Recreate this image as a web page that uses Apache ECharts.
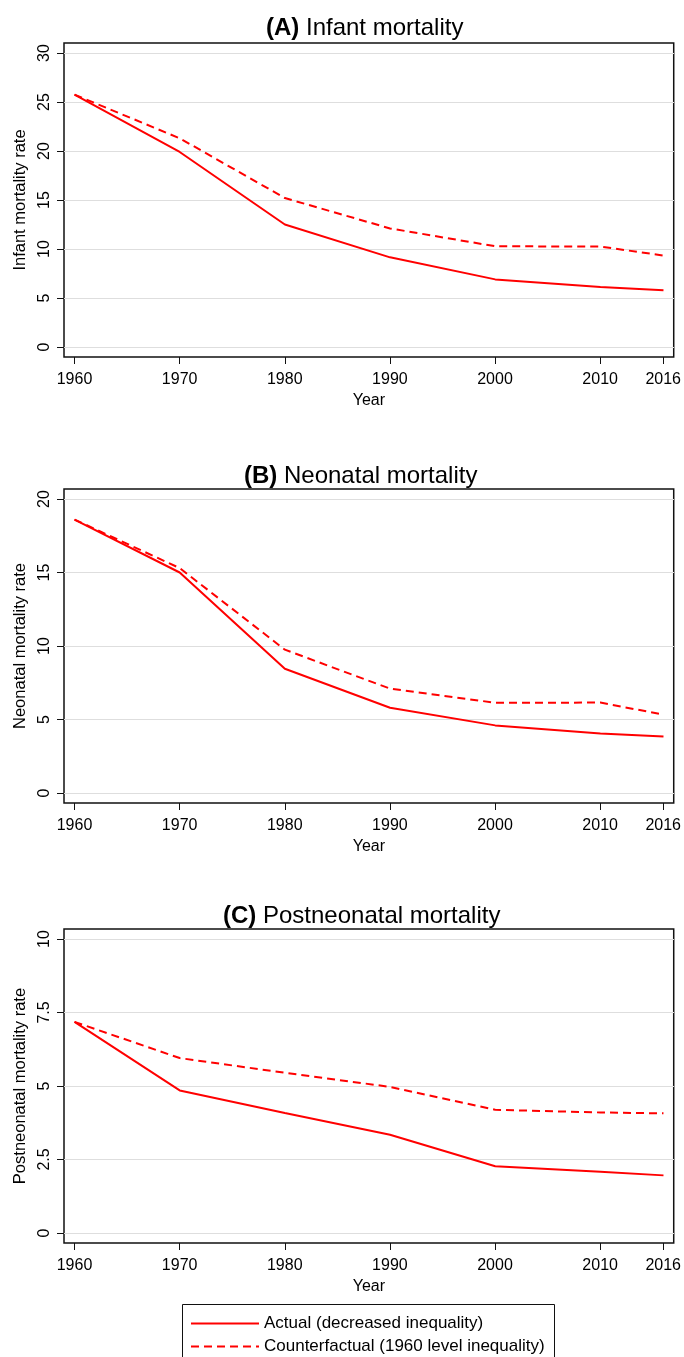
<!DOCTYPE html>
<html>
<head>
<meta charset="utf-8">
<title>Infant, neonatal and postneonatal mortality</title>
<script src="https://cdn.jsdelivr.net/npm/echarts@6/dist/echarts.min.js"></script>
<style>
  html, body { margin: 0; padding: 0; background: #fff; }
  #main { width: 684px; height: 1357px; }
</style>
</head>
<body>
<div id="main"></div>
<script>
// values
const years = [1960, 1970, 1980, 1990, 2000, 2010, 2016]
const xTicks = [1960, 1970, 1980, 1990, 2000, 2010, 2016]

const infantActual = [25.75, 19.9, 12.5, 9.15, 6.9, 6.12, 5.8]
const infantCounter = [25.75, 21.3, 15.2, 12.1, 10.28, 10.25, 9.33]
const neoActual = [18.6, 15.0, 8.45, 5.8, 4.6, 4.05, 3.85]
const neoCounter = [18.6, 15.3, 9.75, 7.1, 6.14, 6.15, 5.33]
const postActual = [7.18, 4.85, 4.08, 3.34, 2.27, 2.08, 1.96]
const postCounter = [7.18, 5.95, 5.45, 4.97, 4.19, 4.1, 4.07]

const actualName = 'Actual (decreased inequality)'
const counterName = 'Counterfactual (1960 level inequality)'

const panels = [
  { tag: '(A)', name: 'Infant mortality', yName: 'Infant mortality rate', yMax: 30, yStep: 5, actual: infantActual, counter: infantCounter },
  { tag: '(B)', name: 'Neonatal mortality', yName: 'Neonatal mortality rate', yMax: 20, yStep: 5, actual: neoActual, counter: neoCounter },
  { tag: '(C)', name: 'Postneonatal mortality', yName: 'Postneonatal mortality rate', yMax: 10, yStep: 2.5, actual: postActual, counter: postCounter }
]

// layout (px)
const frameTop = [43, 489, 929]
const titleTop = [16, 464, 904]
const titleLeft = [266, 244, 223]
const frameLeft = 64
const frameWidth = 610
const pad = 10
const plotHeight = 294

const font = 'Liberation Sans, Arial, Helvetica, sans-serif'
const red = '#ff0000'

const pairs = (vals) => years.map((y, i) => [y, vals[i]])

const grid = []
const xAxis = []
const yAxis = []
const series = []

panels.forEach((p, i) => {
  // outer frame of the plot region, carries the year axis
  grid.push({
    left: frameLeft, width: frameWidth, top: frameTop[i], height: plotHeight + 2 * pad,
    show: true, borderColor: '#111', borderWidth: 1.5
  })
  xAxis.push({
    gridIndex: 2 * i,
    type: 'value',
    position: 'bottom',
    min: 1959,
    max: 2017,
    axisLine: { show: false, onZero: false },
    axisTick: { show: true, inside: false, length: 7, customValues: xTicks, lineStyle: { color: '#111' } },
    axisLabel: { customValues: xTicks, formatter: (v) => String(v), margin: 15, fontSize: 16, color: '#000', fontFamily: font },
    splitLine: { show: false },
    name: 'Year',
    nameLocation: 'middle',
    nameGap: 36,
    nameTextStyle: { fontSize: 16, color: '#000', fontFamily: font }
  })
  yAxis.push({ gridIndex: 2 * i, type: 'value', min: 0, max: 1, show: false })

  // data region
  grid.push({ left: frameLeft, width: frameWidth, top: frameTop[i] + pad, height: plotHeight })
  xAxis.push({ gridIndex: 2 * i + 1, type: 'value', min: 1959, max: 2017, show: false })
  yAxis.push({
    gridIndex: 2 * i + 1,
    type: 'value',
    min: 0,
    max: p.yMax,
    interval: p.yStep,
    axisLine: { show: false },
    axisTick: { show: true, inside: false, length: 7, lineStyle: { color: '#111' } },
    axisLabel: { rotate: 90, margin: 11, fontSize: 16, color: '#000', fontFamily: font },
    splitLine: { show: true, lineStyle: { color: '#dedede', width: 1.2 } },
    name: p.yName,
    nameLocation: 'middle',
    nameGap: 32,
    nameTextStyle: { fontSize: 16.5, color: '#000', fontFamily: font }
  })

  series.push({
    name: actualName,
    type: 'line',
    xAxisIndex: 2 * i + 1,
    yAxisIndex: 2 * i + 1,
    symbol: 'none',
    data: pairs(p.actual),
    lineStyle: { color: red, width: 2 },
    itemStyle: { color: red }
  })
  series.push({
    name: counterName,
    type: 'line',
    xAxisIndex: 2 * i + 1,
    yAxisIndex: 2 * i + 1,
    symbol: 'none',
    data: pairs(p.counter),
    lineStyle: { color: red, width: 2, type: [8, 5] },
    itemStyle: { color: red }
  })
})

const legendBase = {
  orient: 'horizontal',
  left: 190,
  padding: 0,
  itemWidth: 68,
  itemHeight: 14,
  itemStyle: { color: 'rgba(0,0,0,0)', borderColor: 'rgba(0,0,0,0)', borderWidth: 0, opacity: 0 },
  textStyle: { fontSize: 17, color: '#000', fontFamily: font }
}

const chart = echarts.init(document.getElementById('main'))
chart.setOption({
  animation: false,
  backgroundColor: '#fff',
  textStyle: { fontFamily: font },
  title: panels.map((p, i) => ({
    text: '{b|' + p.tag + '} ' + p.name,
    left: titleLeft[i],
    top: titleTop[i],
    padding: 0,
    textStyle: {
      fontSize: 24, fontWeight: 'normal', color: '#000', fontFamily: font,
      rich: { b: { fontSize: 24, fontWeight: 'bold', color: '#000', fontFamily: font } }
    }
  })),
  legend: [
    Object.assign({ data: [actualName], top: 1315 }, legendBase),
    Object.assign({ data: [counterName], top: 1338 }, legendBase)
  ],
  graphic: [{
    type: 'rect',
    shape: { x: 182.5, y: 1304.5, width: 372, height: 80 },
    style: { fill: null, stroke: '#111', lineWidth: 1 },
    silent: true
  }],
  grid,
  xAxis,
  yAxis,
  series
})
</script>
</body>
</html>
